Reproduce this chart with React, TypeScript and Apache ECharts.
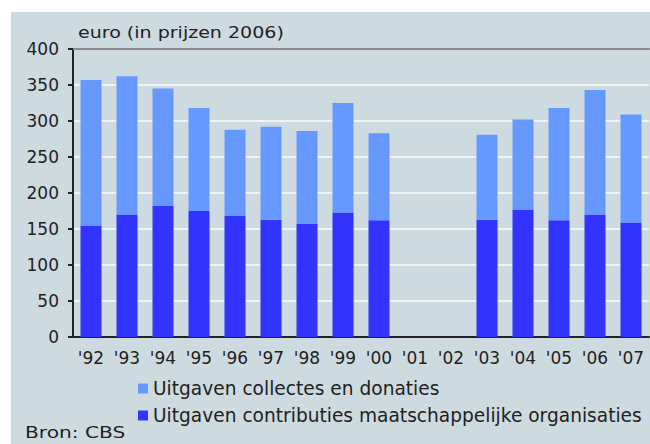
import React, { useEffect, useRef } from "react";
import * as echarts from "echarts";

const categories = ["'92", "'93", "'94", "'95", "'96", "'97", "'98", "'99", "'00", "'01", "'02", "'03", "'04", "'05", "'06", "'07"];
const contributies = [155, 170, 182, 175, 168, 163, 157, 173, 162, null, null, 163, 177, 162, 170, 159];
const collectes = [202, 192, 163, 143, 120, 129, 129, 152, 121, null, null, 118, 125, 156, 173, 150];
const yTicks = { min: 0, max: 400, interval: 50 };
const seriesNames = ["Uitgaven collectes en donaties", "Uitgaven contributies maatschappelijke organisaties"];
const titleText = "euro (in prijzen 2006)";
const sourceText = "Bron: CBS";

const FONT = "DejaVu Sans";

export default function App() {
  const ref = useRef<HTMLDivElement>(null);
  useEffect(() => {
    if (!ref.current) return;
    const chart = echarts.init(ref.current, undefined, { renderer: "svg" });
    chart.setOption({
      animation: false,
      backgroundColor: "#ffffff",
      textStyle: { fontFamily: FONT },
      graphic: [
        { type: "rect", left: 11, top: 12, shape: { width: 639, height: 432 }, style: { fill: "#cddbe0" }, z: -10 },
        {
          type: "text", x: 78, y: 25, scaleX: 1.19,
          style: { text: titleText, font: `16px ${FONT}`, fill: "#222", textBaseline: "top" },
        },
        {
          type: "text", x: 25, y: 424, scaleX: 1.26,
          style: { text: sourceText, font: `16px ${FONT}`, fill: "#222", textBaseline: "top" },
        },
      ],
      grid: { left: 73, right: 1, top: 49, bottom: 107 },
      legend: {
        orient: "vertical",
        left: 133,
        top: 374,
        itemWidth: 10,
        itemHeight: 10,
        itemGap: 8,
        icon: "rect",
        data: seriesNames,
        textStyle: { fontSize: 18.6, color: "#222", fontFamily: FONT },
      },
      xAxis: [
        {
          type: "category",
          data: categories,
          axisLine: { lineStyle: { color: "#222", width: 2 } },
          axisTick: { show: false },
          axisLabel: { fontSize: 17, color: "#222", margin: 12, fontFamily: FONT },
        },
        {
          type: "category",
          position: "top",
          data: categories,
          axisLine: { lineStyle: { color: "#8a8a8a", width: 2 } },
          axisTick: { show: false },
          axisLabel: { show: false },
        },
      ],
      yAxis: {
        type: "value",
        min: yTicks.min,
        max: yTicks.max,
        interval: yTicks.interval,
        axisLine: { show: true, lineStyle: { color: "#222", width: 2 } },
        axisTick: { show: true, length: 5, lineStyle: { color: "#222", width: 2 } },
        axisLabel: { fontSize: 17, color: "#222", margin: 14, fontFamily: FONT },
        splitLine: { show: true, lineStyle: { color: "#eef3f5", width: 2 } },
      },
      series: [
        {
          name: seriesNames[1],
          type: "bar",
          stack: "total",
          data: contributies,
          barWidth: 21,
          itemStyle: { color: "#3333ff" },
        },
        {
          name: seriesNames[0],
          type: "bar",
          stack: "total",
          data: collectes,
          barWidth: 21,
          itemStyle: { color: "#6699ff" },
        },
      ],
    });
    return () => chart.dispose();
  }, []);
  return <div ref={ref} style={{ position: "fixed", left: 0, top: 0, width: 650, height: 444 }} />;
}
